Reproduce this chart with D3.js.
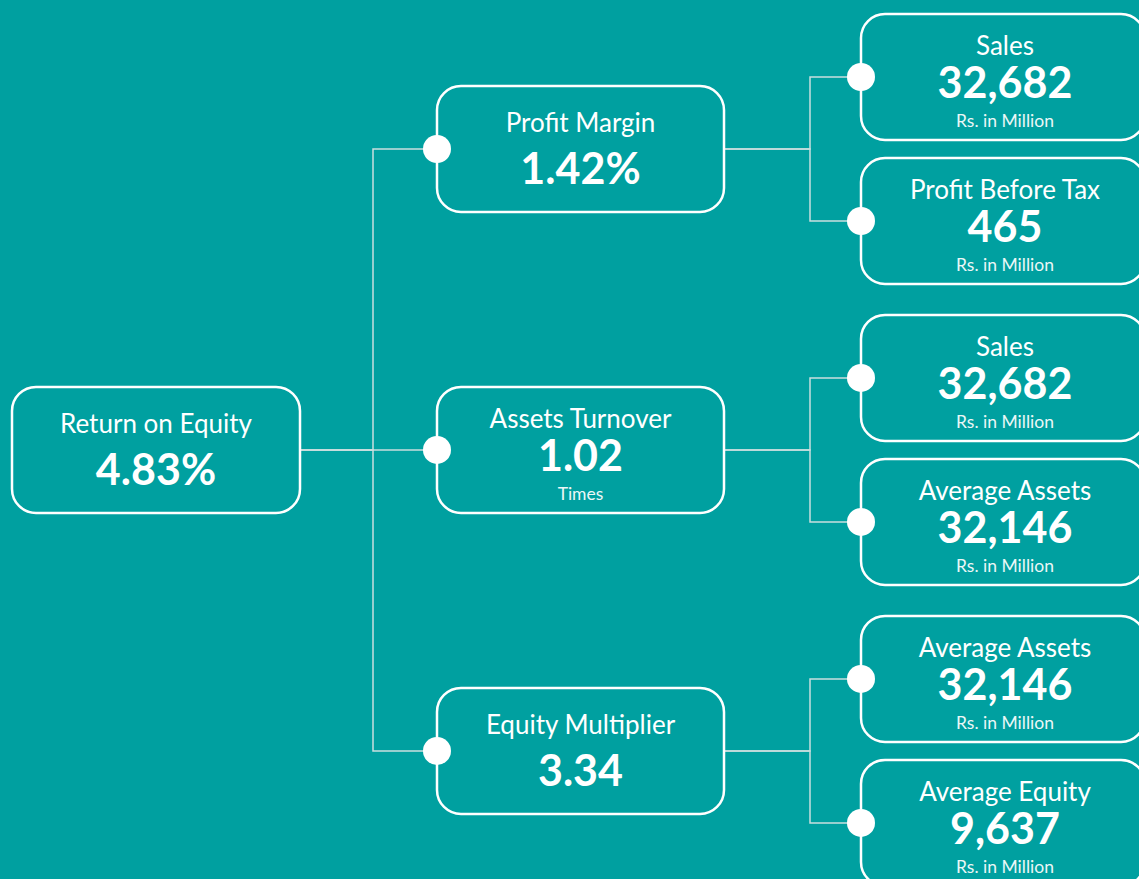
<!DOCTYPE html>
<html>
<head>
<meta charset="utf-8">
<script src="https://cdn.jsdelivr.net/npm/d3@7"></script>
<style>
  html, body { margin: 0; padding: 0; background: #00a0a0; overflow: hidden; }
  svg { display: block; }
  text { font-family: Lato, "Open Sans", sans-serif; fill: #ffffff; }
</style>
</head>
<body>
<svg id="chart" width="1139" height="879"></svg>
<script>
// ROE tree (DuPont breakdown)
const nodeIds = ["roe", "pm", "at", "em", "sales1", "pbt", "sales2", "avgA1", "avgA2", "avgE"];
const nodeParents = ["", "roe", "roe", "roe", "pm", "pm", "at", "at", "em", "em"];
const nodeNames = ["Return on Equity", "Profit Margin", "Assets Turnover", "Equity Multiplier",
  "Sales", "Profit Before Tax", "Sales", "Average Assets", "Average Assets", "Average Equity"];
const nodeValues = ["4.83%", "1.42%", "1.02", "3.34", "32,682", "465", "32,682", "32,146", "32,146", "9,637"];
const nodeUnits = ["", "", "Times", "", "Rs. in Million", "Rs. in Million", "Rs. in Million",
  "Rs. in Million", "Rs. in Million", "Rs. in Million"];

const svg = d3.select("#chart");
const width = 1139, height = 879;

svg.append("rect").attr("width", width).attr("height", height).attr("fill", "#00a0a0");

const rows = nodeIds.map((id, i) => ({
  id: id, parent: nodeParents[i] || null,
  name: nodeNames[i], value: nodeValues[i], unit: nodeUnits[i]
}));

const root = d3.stratify().id(d => d.id).parentId(d => d.parent)(rows);

d3.tree()
  .nodeSize([144, 1])
  .separation((a, b) => (a.parent === b.parent ? 1 : 1.09))(root);

const leaves = root.leaves();
const yShift = 77 - leaves[0].x;
const yPos = d => d.x + yShift;

// horizontal layout by depth
const boxLeft = d3.scaleOrdinal().domain([0, 1, 2]).range([12, 437, 861]);
const boxWidth = d3.scaleOrdinal().domain([0, 1, 2]).range([288, 287, 284]);
const elbowX = d3.scaleOrdinal().domain([0, 1]).range([373, 810]);
const boxH = 126;

// connectors
const links = svg.append("g")
  .attr("class", "links")
  .attr("fill", "none")
  .attr("stroke", "#c9dede")
  .attr("stroke-width", 1.5);

links.selectAll("path")
  .data(root.links())
  .enter()
  .append("path")
  .attr("d", function (d) {
    const sx = boxLeft(d.source.depth) + boxWidth(d.source.depth);
    const sy = yPos(d.source);
    const ex = elbowX(d.source.depth);
    const tx = boxLeft(d.target.depth);
    const ty = yPos(d.target);
    return "M" + sx + "," + sy + "H" + ex + "V" + ty + "H" + tx;
  });

// boxes
const node = svg.append("g")
  .selectAll("g")
  .data(root.descendants())
  .enter()
  .append("g")
  .attr("transform", d => "translate(" + boxLeft(d.depth) + "," + yPos(d) + ")");

node.append("rect")
  .attr("x", 0)
  .attr("y", -boxH / 2)
  .attr("width", d => boxWidth(d.depth))
  .attr("height", boxH)
  .attr("rx", 24)
  .attr("fill", "none")
  .attr("stroke", "#ffffff")
  .attr("stroke-width", 2.5);

// dots on the left edge of child boxes
node.filter(d => d.depth > 0)
  .append("circle")
  .attr("r", 14)
  .attr("fill", "#ffffff");

const cx = d => boxWidth(d.depth) / 2 + (d.depth === 2 ? 2 : 0);

node.append("text")
  .attr("x", cx)
  .attr("y", d => (d.data.unit ? -22 : -17))
  .attr("text-anchor", "middle")
  .style("font-size", "26px")
  .text(d => d.data.name);

node.append("text")
  .attr("x", cx)
  .attr("y", d => (d.data.unit ? 21 : 35))
  .attr("text-anchor", "middle")
  .style("font-size", "43px")
  .style("font-weight", 700)
  .text(d => d.data.value);

node.filter(d => d.data.unit)
  .append("text")
  .attr("x", cx)
  .attr("y", 50)
  .attr("text-anchor", "middle")
  .style("font-size", "17.5px")
  .style("opacity", 0.92)
  .text(d => d.data.unit);
</script>
</body>
</html>
